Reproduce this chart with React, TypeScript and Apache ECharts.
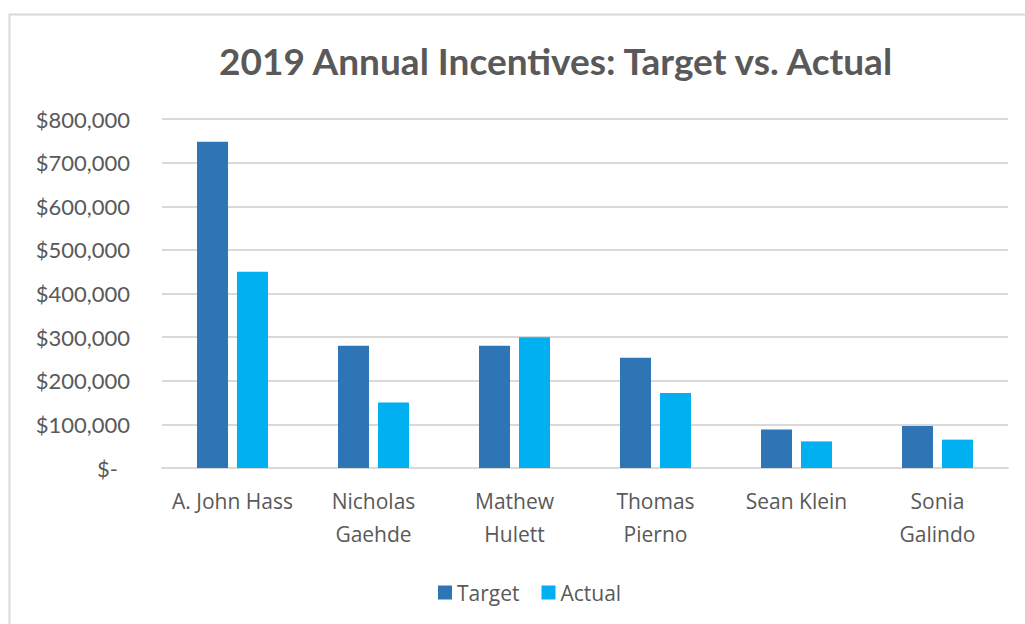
import React, { useEffect, useRef } from "react";
import * as echarts from "echarts";

const categories = [
  "A. John Hass",
  "Nicholas\nGaehde",
  "Mathew\nHulett",
  "Thomas\nPierno",
  "Sean Klein",
  "Sonia\nGalindo",
];
const targetValues = [748000, 280000, 280000, 253000, 88000, 96000];
const actualValues = [450000, 150000, 300000, 172000, 61000, 65000];
const seriesNames = ["Target", "Actual"];
const titleText = "2019 Annual Incentives: Target vs. Actual";

const FONT = "Lato, 'Open Sans', sans-serif";
const FONT2 = "'Open Sans', Lato, sans-serif";
const TEXT_COLOR = "#595959";

export default function App() {
  const ref = useRef<HTMLDivElement>(null);

  useEffect(() => {
    if (!ref.current) return;
    const chart = echarts.init(ref.current, undefined, { renderer: "svg" });
    chart.setOption({
      animation: false,
      backgroundColor: "#ffffff",
      title: {
        text: titleText,
        left: 214,
        top: 37,
        textStyle: {
          fontFamily: FONT,
          fontSize: 37,
          fontWeight: "bold",
          color: TEXT_COLOR,
        },
      },
      graphic: [
        {
          type: "rect",
          left: 7,
          top: 12,
          shape: { width: 1100, height: 700 },
          style: { fill: "none", stroke: "#d9d9d9", lineWidth: 2 },
          silent: true,
          z: -1,
        },
      ],
      legend: {
        data: seriesNames,
        left: 433,
        top: 577,
        itemWidth: 14,
        itemHeight: 14,
        itemGap: 22,
        icon: "rect",
        textStyle: { fontFamily: FONT2, fontSize: 21, color: TEXT_COLOR },
      },
      grid: { left: 162, right: 17, top: 119, bottom: 156, containLabel: false },
      xAxis: {
        type: "category",
        data: categories,
        axisLine: { show: true, lineStyle: { color: "#d9d9d9", width: 2 } },
        axisTick: { show: false },
        axisLabel: {
          fontFamily: FONT2,
          fontSize: 21,
          color: TEXT_COLOR,
          lineHeight: 33,
          margin: 16,
          interval: 0,
        },
      },
      yAxis: {
        type: "value",
        min: 0,
        max: 800000,
        interval: 100000,
        axisLine: { show: false },
        axisTick: { show: false },
        splitLine: { lineStyle: { color: "#d9d9d9", width: 2 } },
        axisLabel: {
          fontFamily: FONT,
          fontSize: 22,
          color: TEXT_COLOR,
          margin: 32,
          formatter: (v: number) =>
            v === 0 ? "{z|$-}" : "$" + v.toLocaleString("en-US"),
          rich: {
            z: {
              fontFamily: FONT,
              fontSize: 22,
              color: TEXT_COLOR,
              padding: [0, 12, 0, 0],
            },
          },
        },
      },
      series: [
        {
          name: seriesNames[0],
          type: "bar",
          data: targetValues,
          barWidth: 31,
          barGap: "29%",
          itemStyle: { color: "#2E75B6" },
        },
        {
          name: seriesNames[1],
          type: "bar",
          data: actualValues,
          barWidth: 31,
          barGap: "29%",
          itemStyle: { color: "#00B0F0" },
        },
      ],
    });
    return () => chart.dispose();
  }, []);

  return (
    <div
      ref={ref}
      style={{ position: "fixed", left: 0, top: 0, width: 1025, height: 624 }}
    />
  );
}
